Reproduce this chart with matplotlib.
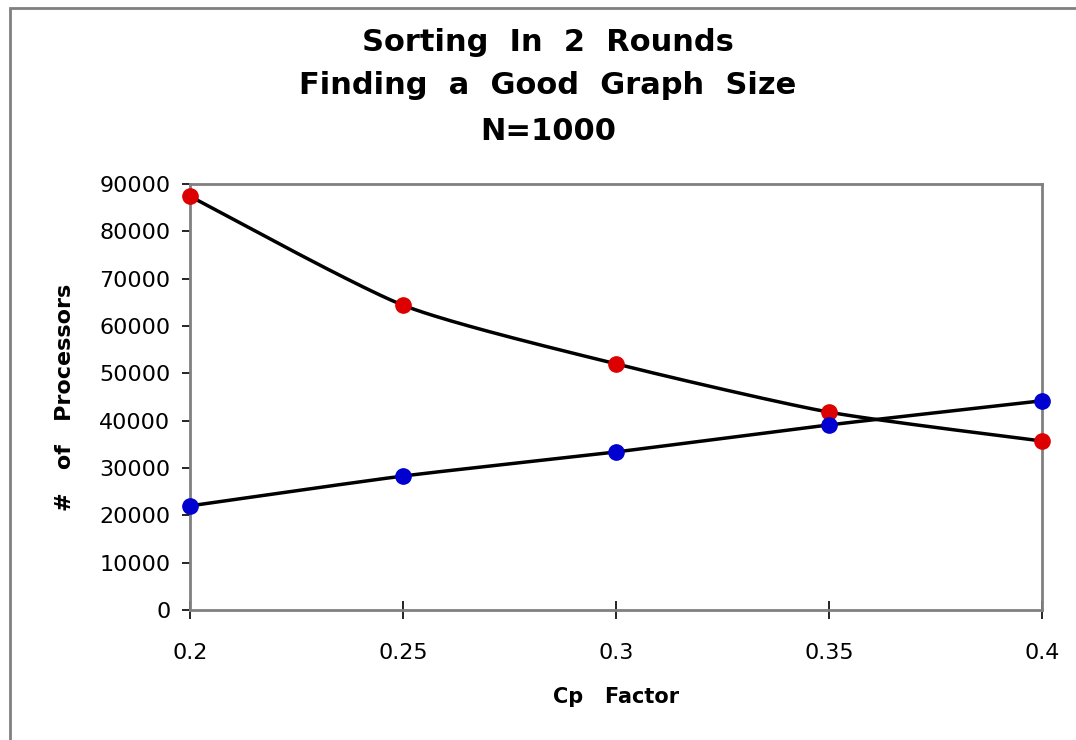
import numpy as np
import matplotlib
matplotlib.use("Agg")
import matplotlib.pyplot as plt
from matplotlib.patches import Rectangle

cp_factor = [0.2, 0.25, 0.3, 0.35, 0.4]
series_red = [87400, 64400, 52000, 41800, 35700]
series_blue = [22000, 28300, 33400, 39100, 44200]
x_ticks = [0.2, 0.25, 0.3, 0.35, 0.4]
x_tick_labels = ["0.2", "0.25", "0.3", "0.35", "0.4"]
y_ticks = list(range(0, 90001, 10000))

plt.rcParams['font.family'] = ['DejaVu Sans']


def smooth(xs, ys, k=0.11, n=40):
    """Piecewise cubic Bezier through the points (spreadsheet-style smoothed line)."""
    xs = np.asarray(xs, float)
    ys = np.asarray(ys, float)
    px = np.concatenate([[xs[0]], xs, [xs[-1]]])
    py = np.concatenate([[ys[0]], ys, [ys[-1]]])
    t = np.linspace(0, 1, n)[:, None]
    pts = np.stack([px, py], axis=1)
    out = []
    for i in range(1, len(pts) - 2):
        p0, p1, p2, p3 = pts[i - 1], pts[i], pts[i + 1], pts[i + 2]
        c1 = p1 + k * (p2 - p0)
        c2 = p2 - k * (p3 - p1)
        seg = ((1 - t) ** 3) * p1 + 3 * ((1 - t) ** 2) * t * c1 + 3 * (1 - t) * t ** 2 * c2 + t ** 3 * p2
        out.append(seg)
    out = np.vstack(out)
    return out[:, 0], out[:, 1]


fig = plt.figure(figsize=(10.76, 7.4), dpi=100)
ax = fig.add_axes([190 / 1076, 130 / 740, (1042 - 190) / 1076, (610 - 184) / 740])

series = ((series_red, '#dd0000'), (series_blue, '#0000d0'))
for ys, col in series:
    # scale x so smoothing is done in a roughly isotropic space
    sx, sy = smooth(np.array(cp_factor) * 426000, ys)
    ax.plot(sx / 426000, sy, color='black', lw=2.5, zorder=2)
for ys, col in series:
    ax.plot(cp_factor, ys, 'o', color=col, ms=11, zorder=3, clip_on=False)

ax.set_xlim(0.2, 0.4)
ax.set_ylim(0, 90000)
ax.set_xticks(x_ticks)
ax.set_xticklabels(x_tick_labels)
ax.set_yticks(y_ticks)
ax.set_yticklabels([str(v) for v in y_ticks])
for s in ax.spines.values():
    s.set_color('#808080')
    s.set_linewidth(2)
ax.tick_params(axis='y', direction='out', length=6, width=1.2, color='black', labelsize=16, pad=8)
ax.tick_params(axis='x', direction='inout', length=13, width=1.2, color='black', labelsize=16, pad=17)

ax.set_xlabel("Cp   Factor", fontsize=15, fontweight='bold')
ax.set_ylabel("#   of   Processors", fontsize=16, fontweight='bold')
ax.xaxis.set_label_coords(0.5, (610 - 697) / 426)
ax.xaxis.label.set_va('center')
ax.yaxis.set_label_coords((65 - 190) / 852, 0.5)
ax.yaxis.label.set_va('center')

titles = ["Sorting  In  2  Rounds", "Finding  a  Good  Graph  Size", "N=1000"]
baselines = [51, 94, 140]
for t, b in zip(titles, baselines):
    fig.text(548 / 1076, 1 - b / 740, t, ha='center', va='baseline', fontsize=22, fontweight='bold')

fig.patches.append(Rectangle((10 / 1076, -0.01), 1.1, 1 - 8 / 740 + 0.01, transform=fig.transFigure,
                             fill=False, edgecolor='#808080', lw=2))

fig.savefig("out.png", dpi=100, facecolor='white')
